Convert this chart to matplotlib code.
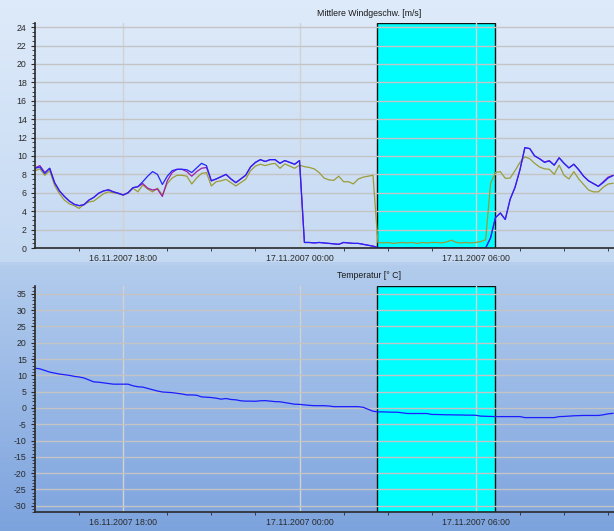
import numpy as np
import pandas as pd
import matplotlib
matplotlib.use('Agg')
import matplotlib.pyplot as plt
import matplotlib.dates as mdates
from matplotlib.ticker import MultipleLocator, FixedLocator

plt.rcParams['font.family'] = ['Liberation Sans', 'DejaVu Sans']
plt.rcParams['axes.unicode_minus'] = False

# 10-minute samples starting 16.11.2007 15:00
start = '2007-11-16 15:00'

wind_blue = [
    8.66, 8.8, 8.1, 8.66, 7.1, 6.2, 5.6, 5.1, 4.75, 4.6,
    4.7, 5.2, 5.5, 5.95, 6.2, 6.3, 6.1, 5.95, 5.76, 6.0,
    6.55, 6.66, 7.2, 7.8, 8.3, 8.0, 6.9, 7.8, 8.4, 8.55,
    8.55, 8.5, 8.2, 8.7, 9.2, 8.95, 7.3, 7.5, 7.75, 8.0,
    7.5, 7.1, 7.5, 7.9, 8.8, 9.3, 9.6, 9.4, 9.6, 9.6,
    9.2, 9.5, 9.3, 9.1, 9.5, 0.6, 0.6, 0.55, 0.6, 0.55,
    0.5, 0.45, 0.4, 0.6, 0.55, 0.5, 0.5, 0.4, 0.3, 0.2,
    0.05, 0.0, 0.0, 0.0, 0.0, 0.0, 0.0, 0.0, 0.0, 0.0,
    0.0, 0.0, 0.0, 0.0, 0.0, 0.0, 0.0, 0.0, 0.0, 0.0,
    0.0, 0.0, 0.0, 1.1, 3.3, 3.8, 3.1, 5.3, 6.6, 8.5,
    10.9, 10.8, 10.0, 9.7, 9.3, 9.45, 9.0, 9.8, 9.2, 8.7,
    9.1, 8.5, 7.8, 7.3, 7.0, 6.7, 7.1, 7.6, 7.86,
]

wind_purple = [
    8.7, 8.95, 8.2, 8.66, 7.1, 6.2, 5.6, 5.1, 4.75, 4.6,
    4.7, 5.2, 5.5, 5.95, 6.2, 6.35, 6.1, 5.95, 5.76, 6.0,
    6.55, 6.66, 7.0, 6.5, 6.3, 6.4, 5.6, 7.3, 8.2, 8.55,
    8.55, 8.3, 7.8, 8.3, 8.66, 8.75, 7.3, 7.5, 7.75, 8.0,
    7.5, 7.1, 7.5, 7.9, 8.8, 9.3, 9.6, 9.4, 9.6, 9.6,
    9.2, 9.5, 9.3, 9.1, 9.5, 0.6, 0.6, 0.55, 0.6, 0.55,
    0.5, 0.45, 0.4, 0.6, 0.55, 0.5, 0.5, 0.4, 0.3, 0.2,
    0.05, 0.0, 0.0, 0.0, 0.0, 0.0, 0.0, 0.0, 0.0, 0.0,
    0.0, 0.0, 0.0, 0.0, 0.0, 0.0, 0.0, 0.0, 0.0, 0.0,
    0.0, 0.0, 0.0, 1.1, 3.3, 3.8, 3.1, 5.3, 6.6, 8.5,
    10.9, 10.8, 10.0, 9.7, 9.35, 9.5, 9.0, 9.8, 9.2, 8.7,
    9.1, 8.5, 7.8, 7.3, 7.0, 6.7, 7.2, 7.7, 7.9,
]

wind_olive = [
    8.4, 8.6, 7.9, 8.4, 6.8, 5.9, 5.2, 4.8, 4.6, 4.3,
    4.75, 5.0, 5.1, 5.5, 5.9, 6.1, 6.0, 5.9, 5.76, 6.0,
    6.5, 6.1, 6.85, 6.4, 6.1, 6.5, 5.76, 7.0, 7.6, 7.9,
    7.9, 7.8, 6.95, 7.6, 8.1, 8.2, 6.74, 7.2, 7.3, 7.46,
    7.1, 6.74, 7.1, 7.46, 8.4, 8.9, 9.1, 8.95, 9.1, 9.2,
    8.66, 9.13, 8.9, 8.66, 9.0, 8.84, 8.75, 8.6, 8.2, 7.6,
    7.4, 7.35, 7.8, 7.2, 7.2, 6.96, 7.5, 7.7, 7.8, 7.9,
    0.6, 0.55, 0.6, 0.5, 0.55, 0.6, 0.55, 0.6, 0.5, 0.6,
    0.55, 0.6, 0.6, 0.55, 0.65, 0.85, 0.6, 0.55, 0.6, 0.55,
    0.6, 0.7, 0.9, 7.0, 8.2, 8.3, 7.57, 7.6, 8.4, 9.3,
    9.9, 9.7, 9.2, 8.8, 8.6, 8.55, 8.0, 9.0, 7.9, 7.5,
    8.3, 7.5, 6.9, 6.3, 6.1, 6.1, 6.6, 6.95, 7.03,
]

temperature = [
    12.2, 12.0, 11.5, 11.0, 10.7, 10.4, 10.2, 10.0, 9.7, 9.5,
    9.2, 8.6, 8.0, 7.9, 7.7, 7.5, 7.3, 7.3, 7.3, 7.3,
    6.8, 6.5, 6.4, 6.0, 5.6, 5.2, 4.9, 4.8, 4.7, 4.5,
    4.3, 4.0, 4.0, 3.9, 3.4, 3.3, 3.2, 3.0, 2.7, 2.9,
    2.6, 2.5, 2.2, 2.1, 2.1, 2.05, 2.2, 2.25, 2.1, 1.95,
    1.9, 1.65, 1.4, 1.15, 1.1, 0.95, 0.8, 0.7, 0.7, 0.7,
    0.6, 0.4, 0.4, 0.4, 0.4, 0.4, 0.4, 0.2, -0.4, -1.0,
    -1.2, -1.2, -1.25, -1.3, -1.3, -1.5, -1.7, -1.7, -1.7, -1.7,
    -1.7, -2.0, -2.0, -2.05, -2.1, -2.1, -2.15, -2.15, -2.2, -2.2,
    -2.25, -2.5, -2.55, -2.6, -2.65, -2.65, -2.65, -2.65, -2.65, -2.65,
    -2.95, -2.95, -2.95, -2.95, -2.95, -2.95, -2.95, -2.65, -2.6, -2.5,
    -2.4, -2.35, -2.3, -2.3, -2.3, -2.3, -2.1, -1.8, -1.65,
]

times = pd.date_range(start, periods=len(wind_blue), freq='10min')
x_start = pd.Timestamp('2007-11-16 15:00')
x_end = pd.Timestamp('2007-11-17 10:42')
span_start = pd.Timestamp('2007-11-17 02:39')
span_end = pd.Timestamp('2007-11-17 06:39')

W, H = 614, 531
fig = plt.figure(figsize=(W / 100, H / 100), dpi=100)

# background gradients of the two panels
top_a, top_b = np.array([0.87, 0.92, 0.98]), np.array([0.77, 0.85, 0.95])
bot_a, bot_b = np.array([0.70, 0.80, 0.93]), np.array([0.49, 0.64, 0.87])
grad = np.zeros((H, 1, 3))
for r in range(H):
    if r < 262:
        f = r / 262
        grad[r, 0] = top_a + (top_b - top_a) * f
    elif r < 265:
        grad[r, 0] = np.array([0.72, 0.81, 0.93])
    else:
        f = (r - 265) / (H - 265)
        grad[r, 0] = bot_a + (bot_b - bot_a) * f
bg = fig.add_axes([0, 0, 1, 1], zorder=-10)
bg.imshow(grad, aspect='auto', extent=[0, 1, 0, 1])
bg.axis('off')

tick_fs = 6.3
grid_h = '#c4c4c4'
grid_v = '#d2d2d2'
minor_x = FixedLocator(mdates.date2num(pd.date_range('2007-11-16 16:30', '2007-11-17 12:00', freq='90min')))


def style_axes(ax, ymin, ymax, major, minor):
    ax.set_facecolor('none')
    ax.set_xlim(x_start, x_end)
    ax.set_ylim(ymin, ymax)
    for s in ['top', 'right']:
        ax.spines[s].set_visible(False)
    for s in ['left', 'bottom']:
        ax.spines[s].set_color('#2a2a2a')
        ax.spines[s].set_linewidth(1.2)
    ax.yaxis.set_major_locator(MultipleLocator(major))
    ax.yaxis.set_minor_locator(MultipleLocator(minor))
    ax.xaxis.set_major_locator(mdates.HourLocator(byhour=[0, 6, 12, 18]))
    ax.xaxis.set_major_formatter(mdates.DateFormatter('%d.%m.%Y %H:%M'))
    ax.xaxis.set_minor_locator(minor_x)
    ax.tick_params(axis='both', which='major', labelsize=tick_fs, colors='#2a2a2a', length=3, width=0.8)
    ax.tick_params(axis='both', which='minor', length=2, width=0.6, colors='#2a2a2a')
    ax.tick_params(axis='x', which='major', length=0, pad=4)
    ax.tick_params(axis='y', which='major', pad=3)
    ax.set_axisbelow(True)
    ax.yaxis.grid(True, color=grid_h, linewidth=1.0)
    ax.xaxis.grid(True, color=grid_v, linewidth=1.0)
    ax.axvspan(span_start, span_end, facecolor='#00ffff', edgecolor='#111111',
               linewidth=1.0, zorder=0.3)


ax1 = fig.add_axes([35 / W, 1 - 248 / H, (W - 35) / W, (248 - 22.5) / H])
style_axes(ax1, 0, 24.5, 2, 0.5)
ax1.plot(times, wind_olive, color='#9c9c38', lw=0.9, zorder=2)
ax1.plot(times, wind_purple, color='#a01ca8', lw=0.9, zorder=2.1)
ax1.plot(times, wind_blue, color='#2424ff', lw=0.9, zorder=2.2)

ax2 = fig.add_axes([35 / W, 1 - 512.3 / H, (W - 35) / W, (512.3 - 285.7) / H])
style_axes(ax2, -32, 37.5, 5, 1)
ax2.plot(times, temperature, color='#1c1cff', lw=0.9, zorder=2)

fig.text(369 / W, 1 - 13 / H, 'Mittlere Windgeschw. [m/s]', ha='center', va='center',
         fontsize=6.3, color='#1a1a1a')
fig.text(369 / W, 1 - 276 / H, 'Temperatur [° C]', ha='center', va='center',
         fontsize=6.3, color='#1a1a1a')

fig.savefig('out.png', dpi=100)
